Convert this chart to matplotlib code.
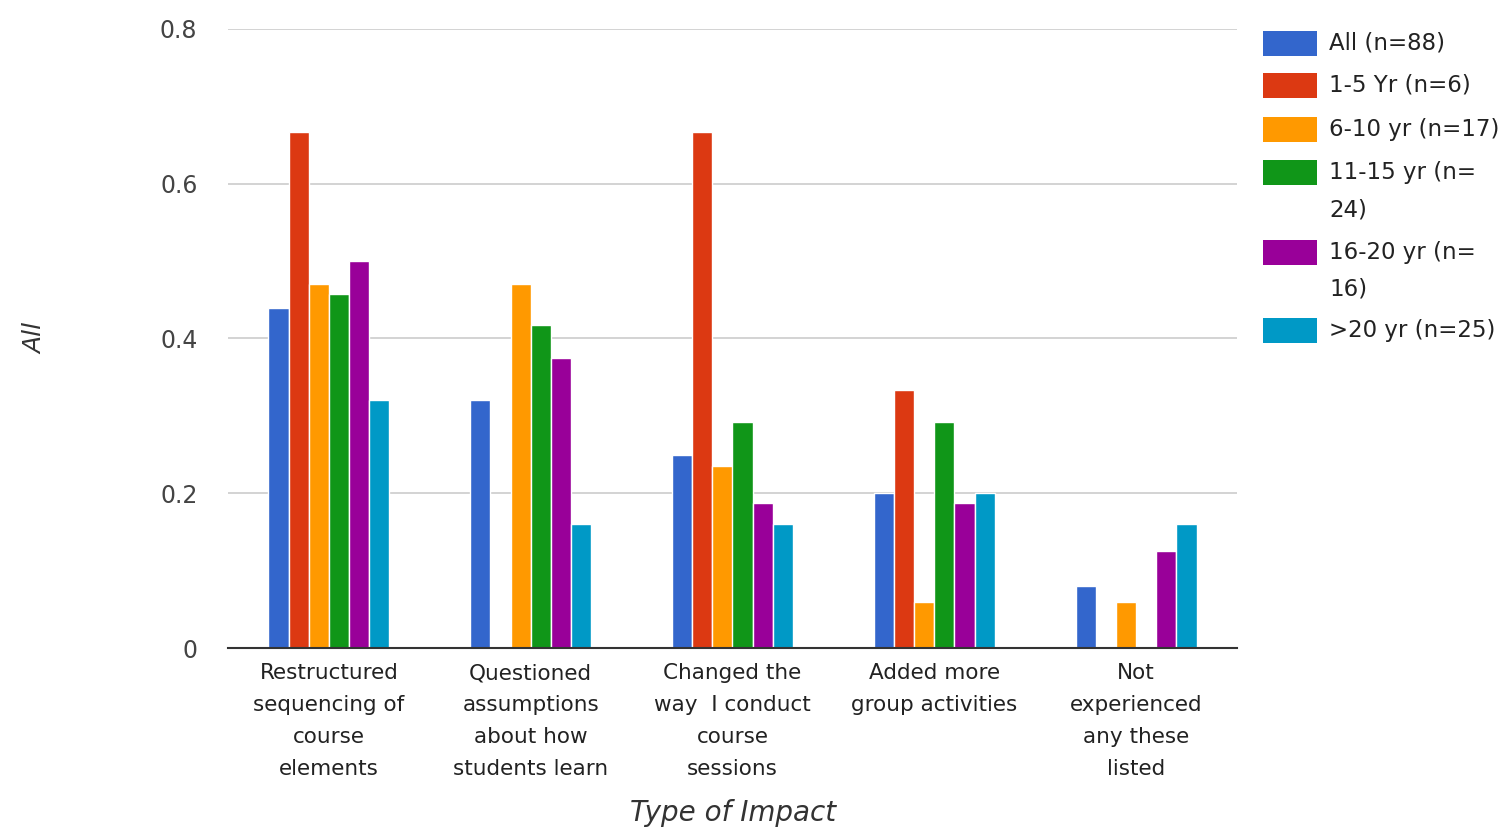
import numpy as np
import matplotlib
matplotlib.use("Agg")
import matplotlib.pyplot as plt
from matplotlib.patches import Rectangle

categories = [
    "Restructured\nsequencing of\ncourse\nelements",
    "Questioned\nassumptions\nabout how\nstudents learn",
    "Changed the\nway  I conduct\ncourse\nsessions",
    "Added more\ngroup activities",
    "Not\nexperienced\nany these\nlisted",
]
series_names = [
    "All (n=88)",
    "1-5 Yr (n=6)",
    "6-10 yr (n=17)",
    "11-15 yr (n=\n24)",
    "16-20 yr (n=\n16)",
    ">20 yr (n=25)",
]
all_88 = [0.44, 0.32, 0.25, 0.20, 0.08]
yr_1_5 = [0.667, 0.0, 0.667, 0.333, 0.0]
yr_6_10 = [0.47, 0.47, 0.235, 0.059, 0.059]
yr_11_15 = [0.458, 0.417, 0.292, 0.292, 0.0]
yr_16_20 = [0.50, 0.375, 0.1875, 0.1875, 0.125]
yr_over_20 = [0.32, 0.16, 0.16, 0.20, 0.16]
series_values = [all_88, yr_1_5, yr_6_10, yr_11_15, yr_16_20, yr_over_20]
colors = ["#3366cc", "#dc3912", "#ff9900", "#109618", "#990099", "#0099c6"]
y_ticks = [0, 0.2, 0.4, 0.6, 0.8]
y_tick_labels = ["0", "0.2", "0.4", "0.6", "0.8"]

plt.rcParams["font.family"] = ["DejaVu Sans"]

W, H = 1509, 830
fig = plt.figure(figsize=(W / 100, H / 100), dpi=100)
ax = fig.add_axes([228 / W, 1 - 648 / H, (1237 - 228) / W, (648 - 29) / H])

x = np.arange(len(categories))
bw = 0.1
n = len(series_values)
for i, (vals, c) in enumerate(zip(series_values, colors)):
    offs = (i - (n - 1) / 2) * bw
    ax.bar(x + offs, vals, width=bw, color=c, edgecolor="white", linewidth=1.0, zorder=3)

ax.set_xlim(-0.5, len(categories) - 0.5)
ax.set_ylim(0, 0.8)
ax.set_yticks(y_ticks)
ax.set_yticklabels(y_tick_labels)
ax.set_xticks(x)
ax.set_xticklabels(categories, linespacing=1.74)
ax.tick_params(axis="y", length=0, pad=22, labelsize=17, labelcolor="#444444")
ax.tick_params(axis="x", length=0, pad=11, labelsize=15.5, labelcolor="#222222")
ax.yaxis.grid(True, color="#cccccc", linewidth=1.2, zorder=0)
for s in ["top", "right", "left"]:
    ax.spines[s].set_visible(False)
ax.spines["bottom"].set_color("#333333")
ax.spines["bottom"].set_linewidth(1.5)
ax.spines["bottom"].set_zorder(4)

fig.text(733 / W, 1 - 813 / H, "Type of Impact", ha="center", va="center",
         fontsize=20, style="italic", color="#333333")
fig.text(35 / W, 1 - 338 / H, "All", ha="center", va="center", rotation=90,
         fontsize=18, style="italic", color="#333333")

# legend drawn at fixed slots on the right; wrapped entries continue below
tops = [31, 73, 117, 160, 240, 318]
for top, name, c in zip(tops, series_names, colors):
    fig.add_artist(Rectangle((1263 / W, 1 - (top + 25) / H), 54 / W, 25 / H,
                             transform=fig.transFigure, facecolor=c, edgecolor="none"))
    for k, line in enumerate(name.split("\n")):
        fig.text(1329 / W, 1 - (top + 12.5 + 37 * k) / H, line, ha="left", va="center",
                 fontsize=16.5, color="#222222")

fig.savefig("out.png", dpi=100)
